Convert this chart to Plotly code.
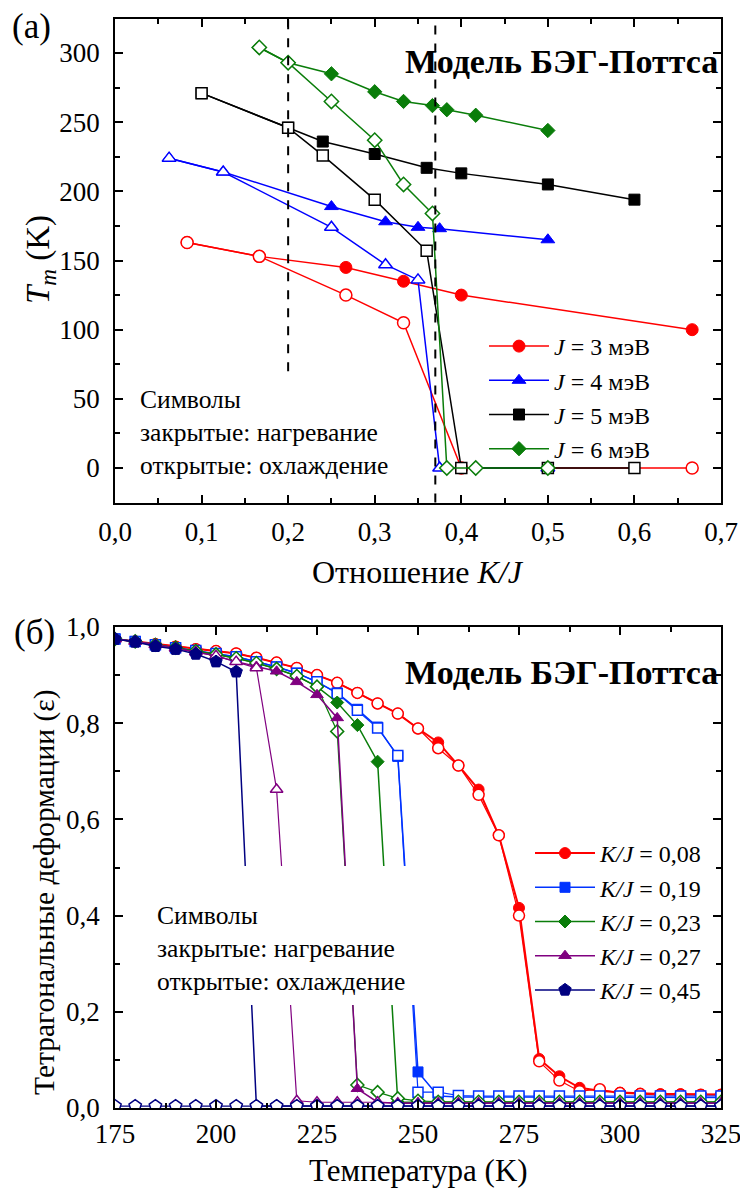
import plotly.graph_objects as go

FONT = "Liberation Serif, Times New Roman, DejaVu Serif, serif"

# ---------------- Panel (a): Tm vs K/J ----------------
J3_kj = [0.0833, 0.1667, 0.2667, 0.3333, 0.4, 0.6667]
J3_heat = [163, 153, 145, 135, 125, 100]
J3_cool = [163, 153, 125, 105, 0, 0]

J4_kj = [0.0625, 0.125, 0.25, 0.3125, 0.35, 0.375, 0.5]
J4_heat = [224, 214, 189, 178, 174, 173, 165]
J4_cool = [224, 214, 174, 147, 136, 0, 0]

J5_kj = [0.1, 0.2, 0.24, 0.3, 0.36, 0.4, 0.5, 0.6]
J5_heat = [271, 246, 236, 227, 217, 213, 205, 194]
J5_cool = [271, 246, 226, 194, 157, 0, 0, 0]

J6_kj = [0.1667, 0.2, 0.25, 0.3, 0.3333, 0.3667, 0.3833, 0.4167, 0.5]
J6_heat = [304, 293, 285, 272, 265, 262, 259, 255, 244]
J6_cool = [304, 293, 265, 237, 205, 184, 0, 0, 0]

J_labels = ["<i>J</i> = 3 мэВ", "<i>J</i> = 4 мэВ", "<i>J</i> = 5 мэВ", "<i>J</i> = 6 мэВ"]

dash_x = [0.2, 0.37]
dash_y_low = [70, -25]
dash_y_high = [325, 325]

# ---------------- Panel (б): strain vs temperature ----------------
T = [175, 180, 185, 190, 195, 200, 205, 210, 215, 220, 225, 230, 235, 240, 245, 250,
     255, 260, 265, 270, 275, 280, 285, 290, 295, 300, 305, 310, 315, 320, 325]

kj008_heat = [0.975, 0.970, 0.964, 0.959, 0.954, 0.950, 0.945, 0.936, 0.926, 0.915, 0.900, 0.884, 0.863, 0.841, 0.820, 0.789,
              0.760, 0.712, 0.662, 0.567, 0.416, 0.102, 0.066, 0.042, 0.036, 0.032, 0.030, 0.029, 0.029, 0.028, 0.028]
kj008_cool = [0.975, 0.970, 0.964, 0.959, 0.954, 0.950, 0.945, 0.936, 0.926, 0.915, 0.900, 0.884, 0.863, 0.841, 0.820, 0.789,
              0.748, 0.712, 0.651, 0.567, 0.400, 0.097, 0.057, 0.035, 0.039, 0.031, 0.029, 0.027, 0.027, 0.027, 0.027]

kj019_heat = [0.975, 0.970, 0.963, 0.957, 0.951, 0.945, 0.938, 0.928, 0.917, 0.904, 0.886, 0.863, 0.829, 0.792, 0.731, 0.075,
              0.025, 0.023, 0.023, 0.022, 0.022, 0.022, 0.022, 0.022, 0.022, 0.022, 0.022, 0.022, 0.022, 0.022, 0.022]
kj019_cool = [0.975, 0.970, 0.963, 0.957, 0.951, 0.945, 0.938, 0.928, 0.917, 0.904, 0.886, 0.862, 0.827, 0.790, 0.733, 0.033,
              0.033, 0.026, 0.025, 0.025, 0.025, 0.025, 0.025, 0.025, 0.025, 0.025, 0.025, 0.025, 0.025, 0.025, 0.025]

kj023_heat = [0.975, 0.970, 0.963, 0.957, 0.950, 0.943, 0.935, 0.925, 0.913, 0.898, 0.876, 0.843, 0.796, 0.720, 0.012, 0.012,
              0.012, 0.012, 0.012, 0.012, 0.012, 0.012, 0.012, 0.012, 0.012, 0.012, 0.012, 0.012, 0.012, 0.012, 0.012]
kj023_cool = [0.975, 0.970, 0.963, 0.957, 0.950, 0.943, 0.935, 0.925, 0.913, 0.898, 0.876, 0.783, 0.048, 0.033, 0.020, 0.015,
              0.013, 0.013, 0.013, 0.013, 0.013, 0.013, 0.013, 0.013, 0.013, 0.013, 0.013, 0.013, 0.013, 0.013, 0.013]

kj027_heat = [0.975, 0.970, 0.963, 0.956, 0.948, 0.940, 0.928, 0.918, 0.908, 0.886, 0.859, 0.811, 0.040, 0.012, 0.010, 0.010,
              0.010, 0.010, 0.010, 0.010, 0.010, 0.010, 0.010, 0.010, 0.010, 0.010, 0.010, 0.010, 0.010, 0.010, 0.010]
kj027_cool = [0.975, 0.970, 0.963, 0.956, 0.948, 0.940, 0.928, 0.915, 0.662, 0.015, 0.012, 0.012, 0.012, 0.012, 0.010, 0.010,
              0.010, 0.010, 0.010, 0.010, 0.010, 0.010, 0.010, 0.010, 0.010, 0.010, 0.010, 0.010, 0.010, 0.010, 0.010]

kj045_heat = [0.975, 0.969, 0.960, 0.954, 0.944, 0.928, 0.907, 0.004, 0.004, 0.004, 0.004, 0.004, 0.004, 0.004, 0.004, 0.004,
              0.004, 0.004, 0.004, 0.004, 0.004, 0.004, 0.004, 0.004, 0.004, 0.004, 0.004, 0.004, 0.004, 0.004, 0.004]
kj045_cool = [0.004] * 31

KJ_labels = ["<i>K/J</i> = 0,08", "<i>K/J</i> = 0,19", "<i>K/J</i> = 0,23", "<i>K/J</i> = 0,27", "<i>K/J</i> = 0,45"]

# ---------------- figure ----------------
W, H = 740, 1198
def px_x(p):
    return p / W
def px_y(p):
    return 1 - p / H

fig = go.Figure()

top_series = [
    (J3_kj, J3_heat, J3_cool, "#ff0000", "circle", 12),
    (J4_kj, J4_heat, J4_cool, "#0000ff", "triangle-up", 12),
    (J5_kj, J5_heat, J5_cool, "#000000", "square", 11),
    (J6_kj, J6_heat, J6_cool, "#0a7d0a", "diamond", 11),
]
for (kj, th, tc, col, sym, sz), lab in zip(top_series, J_labels):
    fig.add_trace(go.Scatter(x=kj, y=th, mode="lines+markers", name=lab,
                             line=dict(color=col, width=1.5),
                             marker=dict(symbol=sym, size=sz, color=col, line=dict(color=col, width=1)),
                             xaxis="x", yaxis="y", legend="legend"))
    fig.add_trace(go.Scatter(x=kj, y=tc, mode="lines+markers", showlegend=False,
                             line=dict(color=col, width=1.5),
                             marker=dict(symbol=sym, size=sz, color="white", line=dict(color=col, width=1.5)),
                             xaxis="x", yaxis="y"))

for xv, y0, y1 in zip(dash_x, dash_y_low, dash_y_high):
    fig.add_trace(go.Scatter(x=[xv, xv], y=[y0, y1], mode="lines", showlegend=False,
                             line=dict(color="black", width=2, dash="dash"),
                             xaxis="x", yaxis="y"))

bot_series = [
    (kj008_heat, kj008_cool, "#ff0000", "circle", 11, 2),
    (kj019_heat, kj019_cool, "#0033ff", "square", 10, 1.5),
    (kj023_heat, kj023_cool, "#0a7d0a", "diamond", 10, 1.5),
    (kj027_heat, kj027_cool, "#800080", "triangle-up", 11, 1.5),
    (kj045_heat, kj045_cool, "#000080", "pentagon", 13, 1.5),
]
for (eh, ec, col, sym, sz, lw), lab in zip(bot_series, KJ_labels):
    fig.add_trace(go.Scatter(x=T, y=eh, mode="lines+markers", name=lab,
                             line=dict(color=col, width=lw),
                             marker=dict(symbol=sym, size=sz, color=col, line=dict(color=col, width=1)),
                             xaxis="x2", yaxis="y2", legend="legend2"))
    fig.add_trace(go.Scatter(x=T, y=ec, mode="lines+markers", showlegend=False,
                             line=dict(color=col, width=1.2),
                             marker=dict(symbol=sym, size=sz, color="white", line=dict(color=col, width=1.5)),
                             xaxis="x2", yaxis="y2"))

axis_common = dict(showline=True, linecolor="black", linewidth=1.5, mirror="allticks",
                   ticks="inside", ticklen=8, tickwidth=1.5, tickcolor="black",
                   showgrid=False, zeroline=False, automargin=False, ticklabeloverflow="allow",
                   tickfont=dict(family=FONT, size=27, color="black"))

dom_x = [px_x(115), px_x(721)]
fig.update_layout(
    width=W, height=H, autosize=False,
    margin=dict(l=0, r=0, t=0, b=0, autoexpand=False),
    paper_bgcolor="white", plot_bgcolor="white",
    separators=", ",
    font=dict(family=FONT, size=24, color="black"),
    xaxis=dict(axis_common, domain=dom_x, anchor="y", range=[0, 0.7], dtick=0.1, tick0=0,
               tickformat=".1f", ticklabelstandoff=4,
               minor=dict(ticks="inside", ticklen=5, dtick=0.05, tickcolor="black", tickwidth=1.5)),
    yaxis=dict(axis_common, domain=[px_y(503), px_y(19)], anchor="x", range=[-25.3, 324.6], dtick=50, tick0=0,
               ticklabelstandoff=8,
               minor=dict(ticks="inside", ticklen=5, dtick=25, tickcolor="black", tickwidth=1.5)),
    xaxis2=dict(axis_common, domain=dom_x, anchor="y2", range=[175, 325], dtick=25, tick0=175,
                ticklabelstandoff=1,
                minor=dict(ticks="inside", ticklen=5, dtick=12.5, tickcolor="black", tickwidth=1.5)),
    yaxis2=dict(axis_common, domain=[px_y(1108), px_y(627)], anchor="x2", range=[0, 1.0], dtick=0.2, tick0=0,
                tickformat=".1f", ticklabelstandoff=8,
                minor=dict(ticks="inside", ticklen=5, dtick=0.1, tickcolor="black", tickwidth=1.5)),
    legend=dict(x=px_x(484), y=px_y(324), xanchor="left", yanchor="top",
                bgcolor="rgba(255,255,255,0)", font=dict(family=FONT, size=24), itemwidth=60,
                tracegroupgap=0),
    legend2=dict(x=px_x(530), y=px_y(831), xanchor="left", yanchor="top",
                 bgcolor="rgba(255,255,255,0)", font=dict(family=FONT, size=24), itemwidth=60,
                 tracegroupgap=0),
)

# white box masking the lines behind the note in panel (б)
fig.add_shape(type="rect", xref="paper", yref="paper",
              x0=px_x(150), x1=px_x(418), y0=px_y(1005), y1=px_y(866),
              fillcolor="white", line=dict(width=0), layer="above")

note = "Символы<br>закрытые: нагревание<br>открытые: охлаждение"
ann = [
    dict(text="(a)", x=px_x(10), y=px_y(26), xanchor="left", yanchor="middle", font=dict(size=35)),
    dict(text="(б)", x=px_x(12), y=px_y(632), xanchor="left", yanchor="middle", font=dict(size=35)),
    dict(text="<b>Модель БЭГ-Поттса</b>", x=px_x(403), y=px_y(61), xanchor="left", yanchor="middle", font=dict(size=34)),
    dict(text="<b>Модель БЭГ-Поттса</b>", x=px_x(403), y=px_y(672), xanchor="left", yanchor="middle", font=dict(size=34)),
    dict(text=note, x=px_x(138), y=px_y(383), xanchor="left", yanchor="top", align="left", font=dict(size=25.5)),
    dict(text=note, x=px_x(155), y=px_y(899), xanchor="left", yanchor="top", align="left", font=dict(size=25.5)),
    dict(text="<i>T<sub>m</sub></i> (K)", x=px_x(40), y=px_y(260), xanchor="center", yanchor="middle",
         textangle=-90, font=dict(size=33)),
    dict(text="Тетрагональные деформации (ε)", x=px_x(44), y=px_y(892), xanchor="center", yanchor="middle",
         textangle=-90, font=dict(size=29.5)),
    dict(text="Отношение <i>K/J</i>", x=px_x(418), y=px_y(572), xanchor="center", yanchor="middle", font=dict(size=32)),
    dict(text="Температура (K)", x=px_x(418), y=px_y(1170), xanchor="center", yanchor="middle", font=dict(size=31)),
]
for a in ann:
    a.update(xref="paper", yref="paper", showarrow=False)
    a["font"] = dict(family=FONT, color="black", **a["font"])
    fig.add_annotation(**a)

fig.write_html("out.html")
